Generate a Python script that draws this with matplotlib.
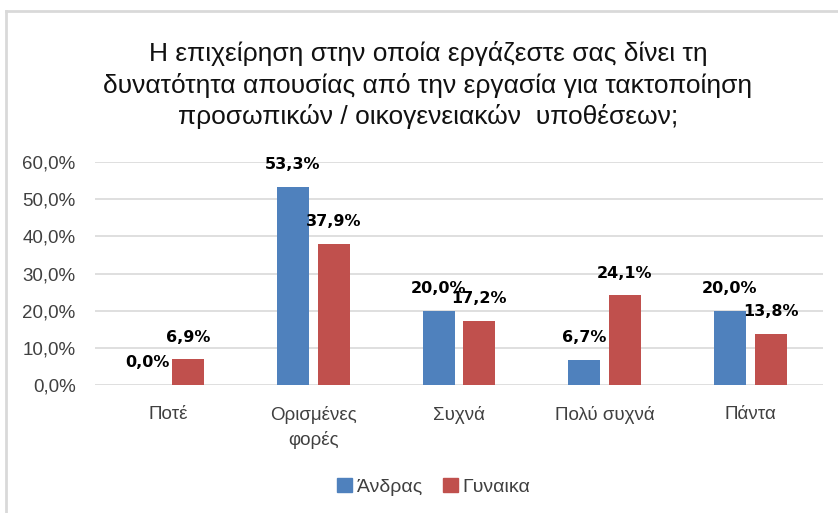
import numpy as np
import matplotlib.pyplot as plt
from matplotlib.lines import Line2D
from matplotlib.patches import Patch

# data
categories = ['Ποτέ', 'Ορισμένες\nφορές', 'Συχνά', 'Πολύ συχνά', 'Πάντα']
men = [0.0, 53.3, 20.0, 6.7, 20.0]
women = [6.9, 37.9, 17.2, 24.1, 13.8]
series_names = ['Άνδρας', 'Γυναικα']
yticks = [0, 10, 20, 30, 40, 50, 60]

BLUE = '#4F81BD'
RED = '#C0504D'
TXT = '#404040'

plt.rcParams['font.family'] = ['Liberation Sans', 'DejaVu Sans']

fig = plt.figure(figsize=(8.38, 5.13), dpi=100)
W, H = 838, 513
ax = fig.add_axes([95 / W, 1 - 385 / H, (823 - 95) / W, (385 - 162) / H])

x = np.arange(len(categories))
bw = 0.22
off = 0.14
b1 = ax.bar(x - off, men, bw, color=BLUE, zorder=3)
b2 = ax.bar(x + off, women, bw, color=RED, zorder=3)

for bars, vals in [(b1, men), (b2, women)]:
    for rect, v in zip(bars, vals):
        ax.annotate(('%.1f%%' % v).replace('.', ','),
                    (rect.get_x() + rect.get_width() / 2, rect.get_height()),
                    xytext=(0, 16), textcoords='offset points',
                    ha='center', va='center', fontsize=11.5, fontweight='bold',
                    color='black', family='DejaVu Sans', zorder=5)

ax.set_xlim(-0.5, len(categories) - 0.5)
ax.set_ylim(0, 60)
ax.set_yticks(yticks)
ax.set_yticklabels([('%.1f%%' % t).replace('.', ',') for t in yticks],
                   fontsize=13.5, color=TXT)
ax.set_xticks(x)
ax.set_xticklabels(categories, fontsize=13.5, color=TXT, linespacing=1.5)
ax.tick_params(axis='both', length=0)
ax.tick_params(axis='x', pad=15)
ax.tick_params(axis='y', pad=14)
ax.grid(axis='y', color='#D9D9D9', linewidth=1.2, zorder=0)
for s in ax.spines.values():
    s.set_visible(False)

fig.text(428 / W, 1 - 85 / H,
         'Η επιχείρηση στην οποία εργάζεστε σας δίνει τη\n'
         'δυνατότητα απουσίας από την εργασία για τακτοποίηση\n'
         'προσωπικών / οικογενειακών  υποθέσεων;',
         ha='center', va='center', fontsize=19, linespacing=1.33,
         color='#111111')

handles = [Patch(color=BLUE), Patch(color=RED)]
fig.legend(handles, series_names, loc='center', bbox_to_anchor=(434 / W, 1 - 487 / H),
           ncol=2, frameon=False, fontsize=14, handlelength=0.75, handleheight=0.75,
           handletextpad=0.25, columnspacing=1.1, labelcolor=TXT)

# chart border (top and left visible)
fig.add_artist(Line2D([6 / W, 1], [1 - 11 / H, 1 - 11 / H], color='#D9D9D9', lw=2,
                      transform=fig.transFigure))
fig.add_artist(Line2D([6 / W, 6 / W], [0, 1 - 11 / H], color='#D9D9D9', lw=2,
                      transform=fig.transFigure))

fig.savefig('out.png', dpi=100)
